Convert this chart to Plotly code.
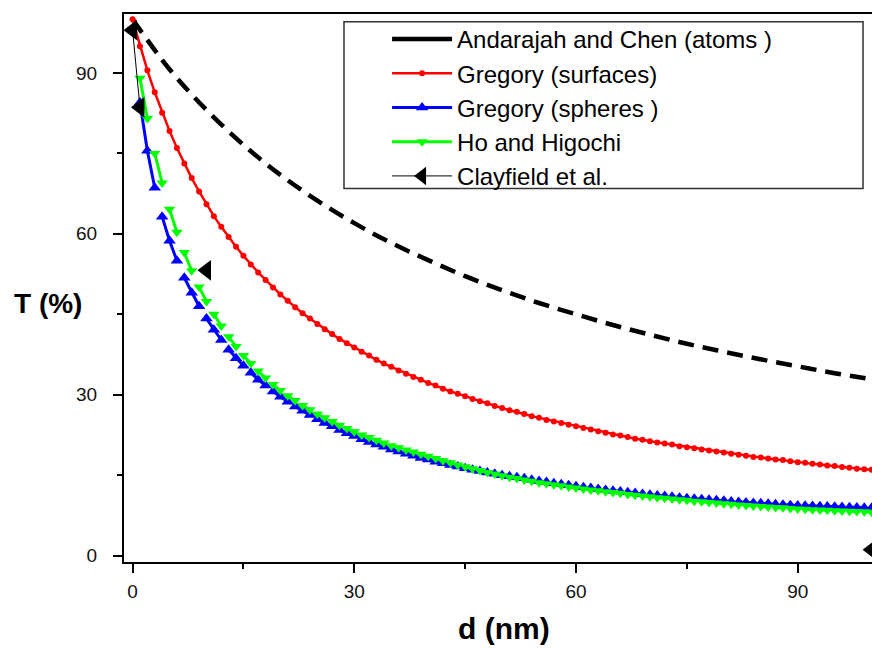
import plotly.graph_objects as go

# ---------------- data ----------------
d_andarajah = [0, 5, 10, 15, 20, 25, 30, 35, 40, 45, 50, 55, 60, 65, 70, 75, 80, 85, 90, 95, 100]
t_andarajah = [100.0, 90.7, 83.1, 76.6, 71.0, 66.2, 62.0, 58.3, 55.1, 52.1, 49.5,
               47.1, 45.0, 43.0, 41.2, 39.5, 38.0, 36.6, 35.3, 34.0, 32.9]

d_surfaces = list(range(0, 101))
t_surfaces = [100.0, 95.0, 90.5, 86.4, 82.6, 79.2, 76.0, 73.1, 70.4, 67.9,
              65.5, 63.3, 61.3, 59.4, 57.6, 55.9, 54.3, 52.8, 51.4, 50.0,
              48.7, 47.5, 46.3, 45.2, 44.2, 43.2, 42.2, 41.3, 40.4, 39.6,
              38.8, 38.0, 37.3, 36.5, 35.8, 35.2, 34.5, 33.9, 33.3, 32.8,
              32.2, 31.7, 31.1, 30.6, 30.2, 29.7, 29.2, 28.8, 28.4, 27.9,
              27.5, 27.1, 26.8, 26.4, 26.0, 25.7, 25.3, 25.0, 24.7, 24.4,
              24.1, 23.8, 23.5, 23.2, 22.9, 22.6, 22.4, 22.1, 21.8, 21.6,
              21.3, 21.1, 20.9, 20.7, 20.4, 20.2, 20.0, 19.8, 19.6, 19.4,
              19.2, 19.0, 18.8, 18.6, 18.4, 18.3, 18.1, 17.9, 17.8, 17.6,
              17.4, 17.3, 17.1, 17.0, 16.8, 16.7, 16.5, 16.4, 16.2, 16.1, 16.0]

d_spheres = list(range(1, 101))
t_spheres = [84.5, 75.5, 68.6, 63.2, 58.7, 55.0, 51.8, 49.0, 46.5, 44.2,
             42.1, 40.2, 38.4, 36.8, 35.4, 34.1, 32.8, 31.7, 30.6, 29.6,
             28.7, 27.8, 27.0, 26.2, 25.4, 24.7, 24.1, 23.4, 22.8, 22.3,
             21.7, 21.2, 20.7, 20.3, 19.8, 19.4, 19.0, 18.6, 18.2, 17.9,
             17.5, 17.2, 16.9, 16.6, 16.3, 16.0, 15.75, 15.5, 15.25, 15.0,
             14.8, 14.6, 14.4, 14.15, 13.9, 13.7, 13.5, 13.3, 13.1, 12.95,
             12.75, 12.6, 12.4, 12.25, 12.1, 11.95, 11.8, 11.65, 11.5, 11.35,
             11.2, 11.1, 10.95, 10.8, 10.7, 10.6, 10.5, 10.4, 10.3, 10.2,
             10.1, 10.0, 9.9, 9.8, 9.75, 9.65, 9.55, 9.5, 9.4, 9.35,
             9.3, 9.25, 9.2, 9.15, 9.1, 9.05, 9.0, 8.95, 8.9, 8.9]

d_ho = list(range(1, 101))
t_ho = [89.0, 81.5, 75.0, 69.5, 64.6, 60.3, 56.5, 53.1, 50.1, 47.4,
        45.0, 42.8, 40.8, 39.0, 37.3, 35.8, 34.4, 33.1, 31.9, 30.8,
        29.8, 28.9, 28.0, 27.2, 26.4, 25.7, 25.0, 24.3, 23.7, 23.1,
        22.5, 22.0, 21.5, 21.0, 20.5, 20.1, 19.7, 19.3, 18.9, 18.5,
        18.1, 17.7, 17.3, 16.9, 16.55, 16.2, 15.85, 15.5, 15.2, 14.9,
        14.6, 14.35, 14.1, 13.85, 13.6, 13.4, 13.2, 13.0, 12.8, 12.6,
        12.4, 12.25, 12.1, 11.9, 11.75, 11.6, 11.4, 11.25, 11.1, 10.95,
        10.8, 10.7, 10.55, 10.4, 10.3, 10.15, 10.05, 9.9, 9.8, 9.65,
        9.55, 9.45, 9.35, 9.25, 9.15, 9.05, 8.95, 8.9, 8.8, 8.7,
        8.65, 8.55, 8.5, 8.45, 8.35, 8.3, 8.25, 8.2, 8.15, 8.1]

d_clay = [0, 1, 10, 100]
t_clay = [98.0, 83.6, 53.2, 1.1]

names = ["Andarajah and Chen (atoms )", "Gregory (surfaces)", "Gregory (spheres )",
         "Ho and Higochi", "Clayfield et al."]

x_ticks = [0, 30, 60, 90]
y_ticks = [0, 30, 60, 90]
minor_ticks = [15, 45, 75]


def segmented(xs, ys, n):
    """Origin-style 'segment n' connection: break the line after every n points."""
    ox, oy = [], []
    for i, (x, y) in enumerate(zip(xs, ys)):
        if i > 0 and i % n == 0:
            ox.append(None)
            oy.append(None)
        ox.append(x)
        oy.append(y)
    return ox, oy


fig = go.Figure()

# legend-only entry (solid in the legend)
fig.add_trace(go.Scatter(x=[None], y=[None], mode="lines", name=names[0],
                         line=dict(color="black", width=4.5)))
fig.add_trace(go.Scatter(x=d_andarajah, y=t_andarajah, mode="lines", showlegend=False,
                         line=dict(color="black", width=4.5, dash="16px,9px", shape="spline")))

fig.add_trace(go.Scatter(x=d_surfaces, y=t_surfaces, mode="lines+markers", name=names[1],
                         line=dict(color="#FF0000", width=2.5),
                         marker=dict(symbol="circle", size=6, color="#FF0000")))

sx, sy = segmented(d_spheres, t_spheres, 3)
fig.add_trace(go.Scatter(x=sx, y=sy, mode="lines+markers", name=names[2],
                         line=dict(color="#0000FF", width=3),
                         marker=dict(symbol="triangle-up", size=11, color="#0000FF")))

hx, hy = segmented(d_ho, t_ho, 2)
fig.add_trace(go.Scatter(x=hx, y=hy, mode="lines+markers", name=names[3],
                         line=dict(color="#00FF00", width=3),
                         marker=dict(symbol="triangle-down", size=10, color="#00FF00")))

cx = d_clay[:2] + [None, d_clay[2], None, d_clay[3]]
cy = t_clay[:2] + [None, t_clay[2], None, t_clay[3]]
fig.add_trace(go.Scatter(x=cx, y=cy, mode="lines+markers", name=names[4],
                         line=dict(color="black", width=1),
                         marker=dict(symbol="triangle-left", size=18, color="black")))

axis_font = dict(family="Liberation Sans, Arial, sans-serif", size=19, color="#111")

fig.update_layout(
    width=872, height=648,
    margin=dict(l=124, r=0, t=14, b=86),
    paper_bgcolor="white", plot_bgcolor="white",
    font=dict(family="Liberation Sans, Arial, sans-serif", color="black"),
    xaxis=dict(range=[-1.16, 100.05], tickmode="array", tickvals=x_ticks,
               ticks="outside", ticklen=9, tickwidth=2, tickcolor="black",
               showline=True, linecolor="black", linewidth=2, mirror=True,
               showgrid=False, zeroline=False, tickfont=axis_font, ticklabelstandoff=2,
               minor=dict(tickmode="array", tickvals=minor_ticks, ticks="outside",
                          ticklen=5, tickwidth=2, tickcolor="black")),
    yaxis=dict(range=[-1.2, 101], tickmode="array", tickvals=y_ticks,
               ticks="outside", ticklen=9, tickwidth=2, tickcolor="black",
               showline=True, linecolor="black", linewidth=2, mirror=False,
               showgrid=False, zeroline=False, tickfont=axis_font, ticklabelstandoff=12,
               minor=dict(tickmode="array", tickvals=minor_ticks, ticks="outside",
                          ticklen=5, tickwidth=2, tickcolor="black")),
    legend=dict(x=0.3517, y=0.9945, xanchor="left", yanchor="top",
                bgcolor="rgba(0,0,0,0)", borderwidth=0, itemwidth=60,
                font=dict(family="Liberation Sans, Arial, sans-serif", size=24, color="black"),
                tracegroupgap=0),
    shapes=[dict(type="rect", xref="paper", yref="paper",
                 x0=0.2941, x1=0.988, y0=0.6816, y1=0.986,
                 line=dict(color="#333", width=1.5), fillcolor="rgba(0,0,0,0)", layer="above")],
    annotations=[
        dict(text="<b>T (%)</b>", xref="paper", yref="paper", x=-0.1016, y=0.472,
             showarrow=False, xanchor="center", yanchor="middle",
             font=dict(family="Liberation Sans, Arial, sans-serif", size=28, color="black")),
        dict(text="<b>d (nm)</b>", xref="paper", yref="paper", x=0.508, y=-0.1215,
             showarrow=False, xanchor="center", yanchor="middle",
             font=dict(family="Liberation Sans, Arial, sans-serif", size=30, color="black")),
    ],
)

fig.write_html("out.html")
